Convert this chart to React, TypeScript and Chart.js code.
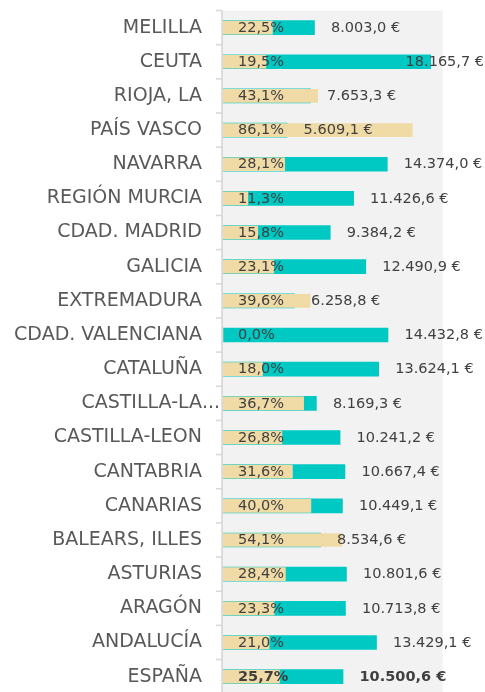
import React, { useEffect, useRef } from "react";
import { Chart, registerables } from "chart.js";

Chart.register(...registerables);

const categories = [
  "MELILLA", "CEUTA", "RIOJA, LA", "PAÍS VASCO", "NAVARRA", "REGIÓN MURCIA",
  "CDAD. MADRID", "GALICIA", "EXTREMADURA", "CDAD. VALENCIANA", "CATALUÑA",
  "CASTILLA-LA MANCHA", "CASTILLA-LEON", "CANTABRIA", "CANARIAS", "BALEARS, ILLES",
  "ASTURIAS", "ARAGÓN", "ANDALUCÍA", "ESPAÑA",
];
const percentValues = [
  22.5, 19.5, 43.1, 86.1, 28.1, 11.3, 15.8, 23.1, 39.6, 0.0, 18.0, 36.7, 26.8,
  31.6, 40.0, 54.1, 28.4, 23.3, 21.0, 25.7,
];
const euroValues = [
  8003.0, 18165.7, 7653.3, 5609.1, 14374.0, 11426.6, 9384.2, 12490.9, 6258.8,
  14432.8, 13624.1, 8169.3, 10241.2, 10667.4, 10449.1, 8534.6, 10801.6, 10713.8,
  13429.1, 10500.6,
];
const boldCategory = "ESPAÑA";

const TEAL = "#00C8C3";
const BEIGE = "#F0DBA6";
const TEXT = "#404040";
const CAT_TEXT = "#595959";
const FONT = "'DejaVu Sans', sans-serif";

function fmtNum(v: number, dec: number) {
  const fixed = v.toFixed(dec);
  const [intPart, decPart] = fixed.split(".");
  const withDots = intPart.replace(/\B(?=(\d{3})+(?!\d))/g, ".");
  return decPart !== undefined ? withDots + "," + decPart : withDots;
}

const decorPlugin = {
  id: "decor",
  beforeDatasetsDraw(chart: any) {
    const { ctx, chartArea } = chart;
    const { left, right, top, bottom } = chartArea;
    ctx.save();
    ctx.fillStyle = "#F2F2F2";
    ctx.fillRect(left, top, right - left, bottom - top);
    // axis line
    ctx.fillStyle = "#D9D9D9";
    ctx.fillRect(left - 1.8, top, 1.8, bottom - top);
    const n = categories.length;
    const band = (bottom - top) / n;
    for (let i = 0; i <= n; i++) {
      const y = top + i * band;
      ctx.fillRect(left - 7, y - 0.8, 6, 1.6);
    }
    // category labels
    const yScale = chart.scales.y;
    ctx.fillStyle = CAT_TEXT;
    ctx.font = `19px ${FONT}`;
    ctx.textBaseline = "middle";
    const labelRight = left - 21;
    const maxW = labelRight - 8;
    categories.forEach((c, i) => {
      const y = yScale.getPixelForValue(i);
      if (ctx.measureText(c).width > maxW) {
        let base = c;
        while (base.length > 0 && ctx.measureText(base).width > maxW - 40) {
          const sp = base.lastIndexOf(" ");
          base = sp > 0 ? base.slice(0, sp) : base.slice(0, -1);
        }
        ctx.textAlign = "right";
        ctx.fillText(base, labelRight, y);
        ctx.textAlign = "left";
        ctx.fillText("...", labelRight, y);
      } else {
        ctx.textAlign = "right";
        ctx.fillText(c, labelRight, y);
      }
    });
    ctx.restore();
  },
  afterDatasetsDraw(chart: any) {
    const { ctx, chartArea, width } = chart;
    const yScale = chart.scales.y;
    const xv = chart.scales.xv;
    ctx.save();
    ctx.fillStyle = TEXT;
    ctx.textBaseline = "middle";
    ctx.textAlign = "left";
    categories.forEach((c, i) => {
      const y = yScale.getPixelForValue(i) + 0.5;
      const bold = c === boldCategory;
      ctx.font = `${bold ? "bold " : ""}14.5px ${FONT}`;
      ctx.fillText(fmtNum(percentValues[i], 1) + "%", chartArea.left + 15, y);
      const txt = fmtNum(euroValues[i], 1) + " €";
      const w = ctx.measureText(txt).width;
      let x = xv.getPixelForValue(euroValues[i]) + 16.5;
      if (x + w > width - 1) x = width - 1 - w;
      ctx.fillText(txt, x, y);
    });
    ctx.restore();
  },
};

export default function App() {
  const ref = useRef<HTMLCanvasElement>(null);
  useEffect(() => {
    document.body.style.margin = "0";
    document.body.style.overflow = "hidden";
    const chart = new Chart(ref.current!, {
      type: "bar",
      data: {
        labels: categories,
        datasets: [
          {
            label: "%",
            data: percentValues,
            backgroundColor: BEIGE,
            xAxisID: "xp",
            barThickness: 13,
            order: 0,
          },
          {
            label: "€",
            data: euroValues,
            backgroundColor: TEAL,
            xAxisID: "xv",
            barThickness: 14,
            order: 1,
          },
        ],
      },
      options: {
        indexAxis: "y",
        responsive: false,
        animation: false,
        layout: { padding: { left: 223, right: 42.3, top: 10.5, bottom: 6.3 } },
        datasets: { bar: { grouped: false } },
        plugins: { legend: { display: false }, tooltip: { enabled: false } },
        scales: {
          y: { type: "category", display: false, offset: true },
          xv: { type: "linear", position: "bottom", display: false, min: 0, max: 19220 },
          xp: { type: "linear", position: "bottom", display: false, min: 0, max: 100 },
        },
      },
      plugins: [decorPlugin],
    } as any);
    return () => chart.destroy();
  }, []);
  return <canvas ref={ref} width={485} height={700} style={{ display: "block" }} />;
}
